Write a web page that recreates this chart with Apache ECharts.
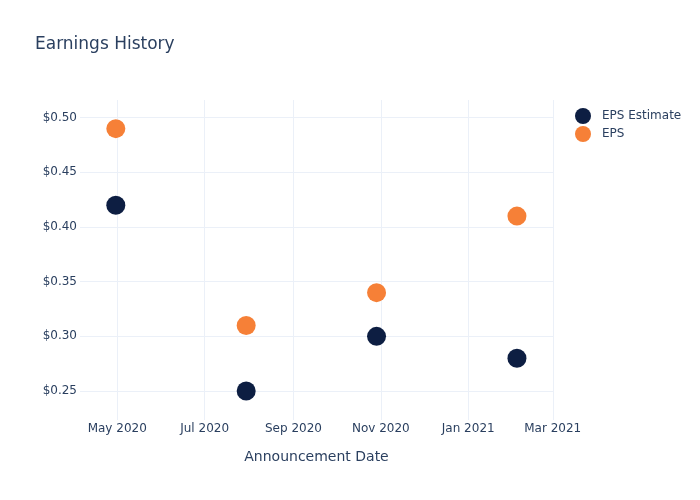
<!DOCTYPE html>
<html>
<head>
<meta charset="utf-8">
<script src="https://cdn.jsdelivr.net/npm/echarts@6/dist/echarts.min.js"></script>
<style>html,body{margin:0;padding:0;background:#fff}#c{width:700px;height:500px}</style>
</head>
<body>
<div id="c"></div>
<script>
const dates = ['2020-04-30', '2020-07-30', '2020-10-29', '2021-02-04'];
const epsEstimate = [0.42, 0.25, 0.30, 0.28];
const eps = [0.49, 0.31, 0.34, 0.41];
const xTicks = ['2020-05-01', '2020-07-01', '2020-09-01', '2020-11-01', '2021-01-01', '2021-03-01'];
const yTicks = [0.25, 0.30, 0.35, 0.40, 0.45, 0.50];
const monthNames = ['Jan','Feb','Mar','Apr','May','Jun','Jul','Aug','Sep','Oct','Nov','Dec'];

const FONT = 'DejaVu Sans';
const TXT = '#2a3f5f';
const GRID = '#EBF0F8';
const toT = d => new Date(d + 'T00:00:00').getTime();
const xTickTimes = xTicks.map(toT);

const chart = echarts.init(document.getElementById('c'), null, {renderer: 'canvas'});
chart.setOption({
  animation: false,
  backgroundColor: '#fff',
  textStyle: {fontFamily: FONT},
  title: {
    text: 'Earnings History',
    left: 30, top: 31,
    textStyle: {fontFamily: FONT, fontSize: 17, fontWeight: 'normal', color: TXT}
  },
  legend: {
    orient: 'vertical',
    left: 570, top: 103,
    itemWidth: 16, itemHeight: 16, itemGap: 2,
    icon: 'circle',
    textStyle: {fontFamily: FONT, fontSize: 12, color: TXT, padding: [0,0,0,6]},
    data: ['EPS Estimate', 'EPS']
  },
  grid: {left: 80, top: 100, width: 473, height: 320, containLabel: false},
  xAxis: {
    type: 'value',
    min: new Date('2020-04-05T00:00:00').getTime(),
    max: new Date('2021-03-01T04:00:00').getTime(),
    name: 'Announcement Date',
    nameLocation: 'middle',
    nameGap: 30,
    nameTextStyle: {fontFamily: FONT, fontSize: 14, color: TXT},
    axisLine: {show: false},
    axisTick: {show: false, customValues: xTickTimes},
    axisLabel: {
      customValues: xTickTimes,
      margin: 3,
      fontFamily: FONT, fontSize: 12, color: TXT,
      formatter: v => { const d = new Date(v); return monthNames[d.getMonth()] + ' ' + d.getFullYear(); }
    },
    splitLine: {show: true, lineStyle: {color: GRID, width: 1}}
  },
  yAxis: {
    type: 'value',
    min: 0.2235, max: 0.5162,
    axisLine: {show: false},
    axisTick: {show: false, customValues: yTicks},
    axisLabel: {
      customValues: yTicks,
      margin: 3,
      fontFamily: FONT, fontSize: 12, color: TXT,
      formatter: v => '$' + v.toFixed(2)
    },
    splitLine: {show: true, lineStyle: {color: GRID, width: 1}}
  },
  series: [
    {
      name: 'EPS Estimate', type: 'scatter', symbolSize: 19,
      itemStyle: {color: '#0D1E42', opacity: 1},
      data: dates.map((d, i) => [toT(d), epsEstimate[i]])
    },
    {
      name: 'EPS', type: 'scatter', symbolSize: 19,
      itemStyle: {color: '#F68037', opacity: 1},
      data: dates.map((d, i) => [toT(d), eps[i]])
    }
  ]
});
</script>
</body>
</html>
